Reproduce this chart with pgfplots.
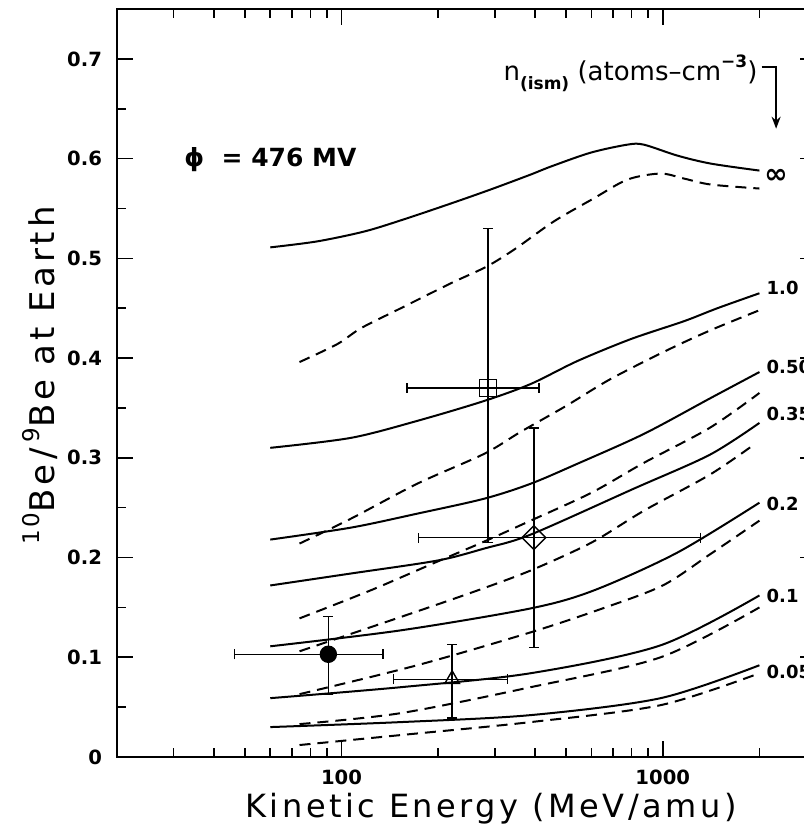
\documentclass[border=0pt]{standalone}
\usepackage{fontspec}
\setmainfont{DejaVu Sans}
\newfontfamily\lblfont[LetterSpace=11]{DejaVu Sans}
\usepackage{pgfplots}
\pgfplotsset{compat=1.18}
\usetikzlibrary{arrows.meta}
\pgfplotsset{
  sol/.style={black, line width=1pt, smooth, tension=0.5, no marks},
  das/.style={black, line width=1pt, smooth, tension=0.5, no marks, dash pattern=on 5.5pt off 3.5pt},
  pt/.style={black, only marks, line width=0.7pt,
    error bars/x dir=both, error bars/x explicit,
    error bars/y dir=both, error bars/y explicit,
    error bars/error bar style={line width=0.7pt},
    error bars/error mark options={rotate=90, black, mark size=2.5pt, line width=0.7pt}},
}
\begin{document}
\begin{tikzpicture}
\begin{axis}[
  scale only axis, width=349.5pt, height=374pt,
  at={(0,0)}, anchor=south west,
  xmode=log, xmin=20, xmax=3000, ymin=0, ymax=0.75,
  axis line style={line width=1pt},
  every tick/.style={black, line width=0.8pt},
  major tick length=8pt, minor tick length=4.5pt,
  xtick={100,1000}, xticklabels={100,1000},
  minor xtick={20,30,40,50,60,70,80,90,200,300,400,500,600,700,800,900,2000,3000},
  ytick={0,0.1,0.2,0.3,0.4,0.5,0.6,0.7},
  yticklabels={0,0.1,0.2,0.3,0.4,0.5,0.6,0.7},
  minor ytick={0.05,0.15,0.25,0.35,0.45,0.55,0.65},
  ticklabel style={font=\bfseries\fontsize{9.8}{10}\selectfont},
  xticklabel shift=3pt, yticklabel shift=4pt,
  xlabel={Kinetic Energy (MeV/amu)},
  xlabel style={font=\lblfont\fontsize{16}{18}\selectfont, at={(axis description cs:0.535,0)}, anchor=base, yshift=-30pt},
  ylabel={\raisebox{0.45em}{\fontsize{11.5}{12}\selectfont 10}Be\,/\,\raisebox{0.45em}{\fontsize{11.5}{12}\selectfont 9}Be at Earth},
  ylabel style={font=\lblfont\fontsize{17}{19}\selectfont, at={(axis description cs:-0.110,0.51)}, anchor=center},
]
% n = infinity
\addplot[sol] coordinates {(60,0.511)(84,0.517)(118,0.527)(156,0.539)(219,0.555)(291,0.569)(388,0.584)(448,0.592)(597,0.606)(776,0.614)(873,0.614)(1111,0.603)(1411,0.595)(2000,0.588)};
\addplot[das] coordinates {(74,0.396)(97,0.414)(115,0.430)(153,0.450)(219,0.475)(284,0.492)(349,0.510)(458,0.537)(609,0.560)(777,0.579)(983,0.585)(1164,0.580)(1411,0.574)(2000,0.570)};
% n = 1.0
\addplot[sol] coordinates {(60,0.310)(107,0.320)(172,0.337)(278,0.357)(388,0.374)(542,0.397)(795,0.419)(1165,0.437)(1480,0.450)(2000,0.465)};
\addplot[das] coordinates {(74,0.214)(107,0.239)(172,0.274)(278,0.304)(361,0.326)(500,0.352)(688,0.379)(1034,0.408)(1411,0.428)(2000,0.448)};
% n = 0.50
\addplot[sol] coordinates {(60,0.218)(107,0.230)(172,0.244)(278,0.259)(388,0.274)(542,0.294)(874,0.324)(1411,0.360)(2000,0.386)};
\addplot[das] coordinates {(74,0.139)(123,0.167)(199,0.196)(278,0.216)(388,0.237)(600,0.265)(874,0.295)(1400,0.330)(2000,0.365)};
% n = 0.35
\addplot[sol] coordinates {(60,0.172)(107,0.184)(199,0.197)(278,0.209)(388,0.223)(812,0.269)(1400,0.303)(2000,0.335)};
\addplot[das] coordinates {(74,0.106)(172,0.146)(265,0.167)(388,0.187)(600,0.215)(874,0.247)(1400,0.283)(1900,0.312)};
% n = 0.2
\addplot[sol] coordinates {(60,0.111)(153,0.127)(388,0.149)(610,0.167)(1111,0.205)(2000,0.255)};
\addplot[das] coordinates {(74,0.063)(172,0.092)(388,0.125)(650,0.149)(1000,0.172)(1400,0.203)(2000,0.237)};
% n = 0.1
\addplot[sol] coordinates {(60,0.059)(153,0.070)(388,0.084)(985,0.112)(2000,0.162)};
\addplot[das] coordinates {(74,0.033)(153,0.044)(388,0.070)(985,0.100)(2000,0.150)};
% n = 0.05
\addplot[sol] coordinates {(60,0.030)(153,0.035)(388,0.042)(985,0.059)(2000,0.092)};
\addplot[das] coordinates {(74,0.012)(153,0.022)(388,0.035)(985,0.052)(2000,0.084)};
% measurements
\addplot[pt, mark=*, mark size=4pt] coordinates {(91,0.103) += (43.5,0.038) -= (44.5,0.040)};
\addplot[pt, mark=triangle, mark size=4.2pt, mark options={fill=white}] coordinates {(221,0.078) += (107,0.035) -= (76,0.039)};
\addplot[pt, mark=square, mark size=4.2pt, mark options={fill=white}] coordinates {(286,0.370) += (126,0.160) -= (126,0.155)};
\addplot[pt, mark=square, mark size=4.2pt, mark options={fill=white, rotate=45}] coordinates {(397,0.220) += (916,0.110) -= (223,0.110)};
% annotations
\node[anchor=west, font=\bfseries\fontsize{12.5}{14}\selectfont] at (axis cs:30.8,0.599) {ϕ\ \ = 476 MV};
\node[anchor=base east, inner sep=0pt, font=\fontsize{13}{15}\selectfont] at (axis cs:1977,0.678)
  {n\raisebox{-0.35em}{\bfseries\fontsize{8.5}{9}\selectfont(ism)} (atoms–cm\raisebox{0.5em}{\bfseries\fontsize{8.5}{9}\selectfont −3})};
\draw[line width=0.8pt, -{Stealth[length=6pt]}] (axis cs:2030,0.6917) -- (axis cs:2254,0.6917) -- (axis cs:2254,0.630);
\begin{scope}[every node/.style={anchor=west, inner sep=0pt, font=\bfseries\fontsize{9}{10}\selectfont}]
\node[font=\bfseries\fontsize{14}{14}\selectfont] at (axis cs:2065,0.582) {∞};
\node at (axis cs:2100,0.470) {1.0};
\node at (axis cs:2100,0.391) {0.50};
\node at (axis cs:2100,0.344) {0.35};
\node at (axis cs:2100,0.254) {0.2};
\node at (axis cs:2100,0.161) {0.1};
\node at (axis cs:2100,0.085) {0.05};
\end{scope}
\end{axis}
\pgfresetboundingbox
\path[use as bounding box] (-58.5pt,-34.5pt) rectangle (343.5pt,378.5pt);
\end{tikzpicture}
\end{document}
